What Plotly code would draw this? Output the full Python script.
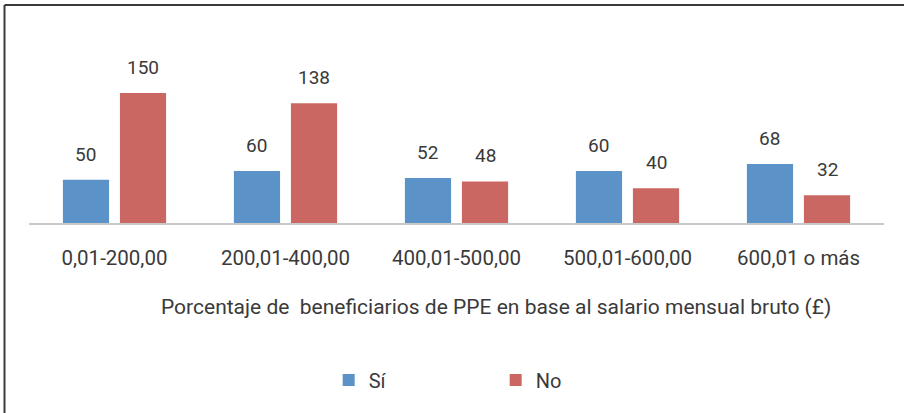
import plotly.graph_objects as go

categories = ["0,01-200,00", "200,01-400,00", "400,01-500,00", "500,01-600,00", "600,01 o más"]
si_values = [50, 60, 52, 60, 68]
no_values = [150, 138, 48, 40, 32]
series_names = ["Sí", "No"]
x_title = "Porcentaje de  beneficiarios de PPE en base al salario mensual bruto (£)"

W, H = 904, 413
ML, MR, MT, MB = 29, 20, 30, 190
PW, PH = W - ML - MR, H - MT - MB
BARGAP, GROUPGAP = 0.333, 0.19
BLUE, RED = "#5B93C8", "#CB6762"
TXT = "#3a3a3a"
FONT = "Roboto"

fig = go.Figure()
fig.add_trace(go.Bar(name=series_names[0], x=categories, y=si_values, marker_color=BLUE,
                     marker_line_width=0))
fig.add_trace(go.Bar(name=series_names[1], x=categories, y=no_values, marker_color=RED,
                     marker_line_width=0))

# value labels above bars
cat_px = PW / len(categories)
group_px = cat_px * (1 - BARGAP)
shift = group_px / 4
for vals, sgn in ((si_values, -1), (no_values, 1)):
    for c, v in zip(categories, vals):
        fig.add_annotation(x=c, y=v, xref="x", yref="y", text=str(v), showarrow=False,
                           xshift=sgn * shift, yanchor="bottom", yshift=12,
                           font=dict(family=FONT, size=19, color=TXT))

def px_x(p):
    return (p - ML) / PW

def px_y(p):
    return (H - MB - p) / PH

# x-axis title (offset to the right, as in the original)
fig.add_annotation(x=px_x(496), y=px_y(307), xref="paper", yref="paper", text=x_title,
                   showarrow=False, xanchor="center", yanchor="middle",
                   font=dict(family=FONT, size=21, color=TXT))

fig.add_shape(type="line", xref="paper", yref="paper", x0=px_x(4.5), x1=px_x(904),
              y0=px_y(5), y1=px_y(5), line=dict(color="#3a3a3a", width=2))
fig.add_shape(type="line", xref="paper", yref="paper", x0=px_x(4.5), x1=px_x(4.5),
              y0=px_y(5), y1=px_y(413), line=dict(color="#3a3a3a", width=2))

fig.update_layout(
    width=W, height=H,
    margin=dict(l=ML, r=MR, t=MT, b=MB, pad=0),
    paper_bgcolor="white", plot_bgcolor="white",
    barmode="group", bargap=BARGAP, bargroupgap=GROUPGAP,
    font=dict(family=FONT, size=20, color=TXT),
    showlegend=True,
    legend=dict(orientation="h", x=0.3505, xanchor="left", y=px_y(380), yanchor="middle",
                font=dict(family=FONT, size=20, color=TXT),
                entrywidth=122, entrywidthmode="pixels", itemwidth=30),
    xaxis=dict(showline=True, linecolor="#C8C8C8", linewidth=1.5, showgrid=False,
               ticks="", ticklabelstandoff=16, tickfont=dict(family=FONT, size=20.5, color=TXT)),
    yaxis=dict(visible=False, range=[0, PH / 0.867], showgrid=False, zeroline=False),
)

fig.write_html("out.html", config={"displayModeBar": False},
               post_script="document.body.style.margin='0';")
